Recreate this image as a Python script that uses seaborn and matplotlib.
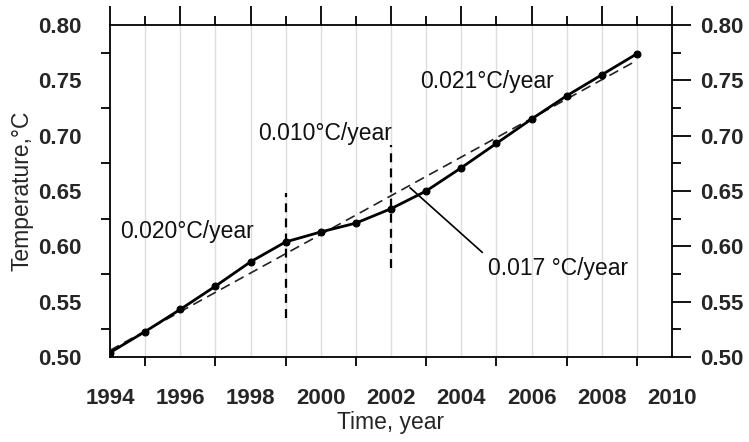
import matplotlib
matplotlib.use("Agg")
import matplotlib.pyplot as plt
import seaborn as sns
import pandas as pd
from matplotlib.ticker import MultipleLocator, FormatStrFormatter

years = [1994, 1995, 1996, 1997, 1998, 1999, 2000, 2001, 2002, 2003,
         2004, 2005, 2006, 2007, 2008, 2009]
temps = [0.504, 0.523, 0.543, 0.564, 0.586, 0.604, 0.613, 0.621, 0.634, 0.650,
         0.671, 0.693, 0.715, 0.736, 0.755, 0.774]
trend_years = [1994, 2009]
trend_vals = [0.506, 0.768]
break_years = [1999, 2002]
break_low = [0.535, 0.580]
break_high = [0.648, 0.692]
ann_texts = ["0.020°C/year", "0.010°C/year", "0.021°C/year", "0.017 °C/year"]
ann_x = [1994.28, 1998.22, 2002.84, 2004.77]
ann_y = [0.613, 0.702, 0.749, 0.580]
pointer_x = [2002.54, 2004.6]
pointer_y = [0.653, 0.5945]

sns.set_theme(style="white")
plt.rcParams['font.family'] = ['Liberation Sans', 'DejaVu Sans']

fig = plt.figure(figsize=(7.49, 4.42), dpi=100)
ax = fig.add_axes([0.1469, 0.1923, 0.8972 - 0.1469, 0.9434 - 0.1923])

df = pd.DataFrame({"year": years, "temp": temps})
tdf = pd.DataFrame({"year": trend_years, "temp": trend_vals})

sns.lineplot(data=tdf, x="year", y="temp", ax=ax, color="#222222", lw=1.2,
             linestyle=(0, (6, 3.5)), zorder=3)
sns.lineplot(data=df, x="year", y="temp", ax=ax, color="black", lw=2,
             marker="o", markersize=5, markeredgecolor="black", zorder=4)

for bx, lo, hi in zip(break_years, break_low, break_high):
    ax.plot([bx, bx], [lo, hi], color="black", lw=1.6, linestyle=(0, (4, 2.8)), zorder=3)

ax.plot(pointer_x, pointer_y, color="black", lw=1.2, zorder=3)

for t, x, y in zip(ann_texts, ann_x, ann_y):
    ax.text(x, y, t, fontsize=16.5, ha="left", va="center", color="#111111")

ax.set_xlim(1994, 2010)
ax.set_ylim(0.50, 0.80)
ax.xaxis.set_major_locator(MultipleLocator(2))
ax.xaxis.set_minor_locator(MultipleLocator(1))
ax.yaxis.set_major_locator(MultipleLocator(0.05))
ax.yaxis.set_minor_locator(MultipleLocator(0.025))
ax.yaxis.set_major_formatter(FormatStrFormatter('%.2f'))

ax.grid(False)
for yr in years[1:]:
    ax.axvline(yr, color="#dedede", lw=1, zorder=0)

ax.tick_params(which="major", direction="out", length=13.5, width=1.3,
               top=True, right=True, labelright=True, color="black")
ax.tick_params(which="minor", direction="out", length=6.5, width=1.3,
               top=True, right=True, bottom=True, left=True, color="black")
ax.tick_params(axis="x", which="major", pad=9, labelsize=16)
ax.tick_params(axis="y", which="major", pad=7, labelsize=16)
for tk in ax.xaxis.get_major_ticks() + ax.yaxis.get_major_ticks():
    tk.label1.set_fontweight("bold")
    tk.label2.set_fontweight("bold")

for s in ax.spines.values():
    s.set_color("black")
    s.set_linewidth(1.3)

ax.set_xlabel("Time, year", fontsize=16.5, labelpad=1)
ax.set_ylabel("Temperature,°C", fontsize=16.5, labelpad=3)

fig.savefig("out.png", dpi=100)
